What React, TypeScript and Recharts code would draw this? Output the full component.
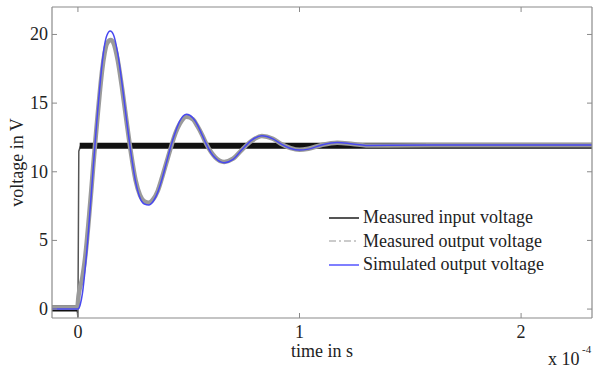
import React from 'react';
import { LineChart, Line, XAxis, YAxis, Legend } from 'recharts';

// time is in units of 1e-4 s
const xTicks = [0, 1, 2];
const yTicks = [0, 5, 10, 15, 20];

// measured input voltage: thin trace (step) and thick noisy band
const inputTime = [-0.117, -0.004, 0, 0.004, 0.012];
const inputVolt = [0.05, 0.05, -0.6, 11.5, 11.9];
const bandTime = [-0.117, -0.004, -0.002, 0.008, 2.32];
const bandVolt = [0.05, 0.05, null, 11.9, 11.9];

// measured output voltage
const measTime = [
  -0.117, -0.003, 0.003, 0.02, 0.03, 0.04, 0.05, 0.06, 0.07, 0.08, 0.09, 0.1, 0.11, 0.12, 0.13, 0.148, 0.16,
  0.18, 0.2, 0.22, 0.24, 0.26, 0.28, 0.3, 0.32, 0.34, 0.36, 0.38, 0.4, 0.42, 0.44, 0.46, 0.49, 0.52, 0.54,
  0.56, 0.58, 0.6, 0.62, 0.66, 0.7, 0.74, 0.78, 0.83, 0.88, 0.92, 0.96, 1.0, 1.04, 1.1, 1.17, 1.24, 1.3, 1.4,
  1.6, 2.0, 2.32,
];
const measVolt = [
  0.1, 0.1, 1.0, 2.3, 3.4, 4.9, 6.7, 8.6, 10.6, 12.5, 14.3, 16.0, 17.5, 18.6, 19.3, 19.6, 19.4,
  18.1, 16.0, 13.6, 11.3, 9.4, 8.3, 7.85, 7.75, 8.0, 8.6, 9.6, 10.7, 11.8, 12.8, 13.5, 14.0, 13.8, 13.3,
  12.7, 12.0, 11.45, 11.05, 10.72, 10.95, 11.6, 12.2, 12.6, 12.4, 12.0, 11.72, 11.6, 11.68, 11.95, 12.12, 12.02, 11.92, 11.92,
  11.93, 11.93, 11.93,
];

// simulated output voltage
const simTime = [
  -0.117, 0, 0.01, 0.02, 0.03, 0.04, 0.05, 0.06, 0.07, 0.08, 0.09, 0.1, 0.11, 0.12, 0.13, 0.146, 0.16,
  0.18, 0.2, 0.22, 0.24, 0.26, 0.28, 0.3, 0.32, 0.34, 0.36, 0.38, 0.4, 0.42, 0.44, 0.46, 0.49, 0.52, 0.54,
  0.56, 0.58, 0.6, 0.62, 0.66, 0.7, 0.74, 0.78, 0.83, 0.88, 0.92, 0.96, 1.0, 1.04, 1.1, 1.17, 1.24, 1.3, 1.4,
  1.6, 2.0, 2.32,
];
const simVolt = [
  0, 0, 0.3, 1.1, 2.5, 4.2, 6.2, 8.3, 10.5, 12.6, 14.6, 16.4, 18.0, 19.2, 19.9, 20.25, 20.0,
  18.6, 16.3, 13.7, 11.3, 9.3, 8.1, 7.65, 7.58, 7.85, 8.5, 9.5, 10.7, 11.9, 12.9, 13.7, 14.18, 13.9, 13.4,
  12.7, 12.0, 11.4, 11.0, 10.66, 10.9, 11.6, 12.25, 12.63, 12.4, 12.0, 11.7, 11.58, 11.65, 11.95, 12.14, 12.02, 11.92, 11.93,
  11.95, 11.95, 11.95,
];

const legendLabels = ['Measured input voltage', 'Measured output voltage', 'Simulated output voltage'];

const toPoints = (t: number[], v: (number | null)[]) => t.map((x, i) => ({ t: x, v: v[i] }));

const inputData = toPoints(inputTime, inputVolt);
const bandData = toPoints(bandTime, bandVolt);
const measData = toPoints(measTime, measVolt);
const simData = toPoints(simTime, simVolt);

const FONT = '"Liberation Serif", "Times New Roman", serif';
const AXIS = '#8a8a8a';
const TXT = '#222';
const TICK = 5;

const BottomTick = (p: any) => (
  <g>
    <line x1={p.x} x2={p.x} y1={p.y - 7} y2={p.y - 7 - TICK} stroke={AXIS} />
    <text x={p.x} y={p.y + 13} textAnchor="middle" fontFamily={FONT} fontSize={18} fill={TXT}>
      {p.payload.value}
    </text>
  </g>
);

const LeftTick = (p: any) => (
  <g>
    <line x1={p.x + 4} x2={p.x + 4 + TICK} y1={p.y} y2={p.y} stroke={AXIS} />
    <text x={p.x} y={p.y + 6} textAnchor="end" fontFamily={FONT} fontSize={18} fill={TXT}>
      {p.payload.value}
    </text>
  </g>
);

const TopTick = (p: any) => <line x1={p.x} x2={p.x} y1={p.y} y2={p.y + TICK} stroke={AXIS} />;
const RightTick = (p: any) => <line x1={p.x} x2={p.x - TICK} y1={p.y} y2={p.y} stroke={AXIS} />;

const XLabel = (p: any) => {
  const vb = p.viewBox;
  return (
    <g fontFamily={FONT} fill={TXT}>
      <text x={vb.x + vb.width / 2} y={vb.y + 39} textAnchor="middle" fontSize={18}>
        time in s
      </text>
      <text x={548} y={vb.y + 47} fontSize={18}>
        x 10
      </text>
      <text x={582} y={vb.y + 35} fontSize={11}>
        -4
      </text>
    </g>
  );
};

const YLabel = (p: any) => {
  const vb = p.viewBox;
  const cx = vb.x + 17;
  const cy = vb.y + vb.height / 2;
  return (
    <text
      x={cx}
      y={cy}
      transform={`rotate(-90 ${cx} ${cy})`}
      textAnchor="middle"
      dominantBaseline="central"
      fontFamily={FONT}
      fontSize={18}
      fill={TXT}
    >
      voltage in V
    </text>
  );
};

const legendStrokes = [
  { stroke: '#555', width: 2, dash: undefined },
  { stroke: '#bbb', width: 1.5, dash: '7 3 2 3' },
  { stroke: '#7f7fff', width: 2, dash: undefined },
];

const renderLegend = () => (
  <div style={{ fontFamily: FONT, fontSize: 18, color: TXT, whiteSpace: 'nowrap' }}>
    {legendLabels.map((label, i) => (
      <div key={label} style={{ display: 'flex', alignItems: 'center', height: 23.5 }}>
        <svg width={34} height={10}>
          <line
            x1={2}
            x2={32}
            y1={5}
            y2={5}
            stroke={legendStrokes[i].stroke}
            strokeWidth={legendStrokes[i].width}
            strokeDasharray={legendStrokes[i].dash}
          />
        </svg>
        <span style={{ marginLeft: 2 }}>{label}</span>
      </div>
    ))}
  </div>
);

export default function App() {
  const xDomain: [number, number] = [-0.117, 2.32];
  const yDomain: [number, number] = [-0.65, 22];
  return (
    <div style={{ position: 'absolute', left: 0, top: 0, width: 593, height: 371, background: '#fff' }}>
      <LineChart width={593} height={371} margin={{ top: 6, right: 0, left: 0, bottom: 0 }}>
        <XAxis
          dataKey="t"
          type="number"
          domain={xDomain}
          allowDataOverflow
          ticks={xTicks}
          interval={0}
          height={53}
          tickSize={0}
          tickMargin={7}
          tickLine={false}
          axisLine={{ stroke: AXIS, strokeWidth: 1.2 }}
          tick={BottomTick}
          label={XLabel}
        />
        <XAxis
          xAxisId="top"
          orientation="top"
          dataKey="t"
          type="number"
          domain={xDomain}
          allowDataOverflow
          ticks={xTicks}
          interval={0}
          height={1}
          tickSize={0}
          tickMargin={0}
          tickLine={false}
          axisLine={{ stroke: AXIS, strokeWidth: 1.2 }}
          tick={TopTick}
        />
        <YAxis
          type="number"
          domain={yDomain}
          allowDataOverflow
          ticks={yTicks}
          interval={0}
          width={52}
          tickSize={0}
          tickMargin={4}
          tickLine={false}
          axisLine={{ stroke: AXIS, strokeWidth: 1.2 }}
          tick={LeftTick}
          label={YLabel}
        />
        <YAxis
          yAxisId="right"
          orientation="right"
          type="number"
          domain={yDomain}
          allowDataOverflow
          ticks={yTicks}
          interval={0}
          width={1}
          tickSize={0}
          tickMargin={0}
          tickLine={false}
          axisLine={{ stroke: AXIS, strokeWidth: 1.2 }}
          tick={RightTick}
        />
        <Legend
          layout="vertical"
          align="center"
          verticalAlign="middle"
          content={renderLegend}
          wrapperStyle={{ left: 327, top: 206, width: 260 }}
        />
        <Line
          data={inputData}
          dataKey="v"
          type="linear"
          stroke="#555"
          strokeWidth={1.5}
          dot={false}
          isAnimationActive={false}
        />
        <Line
          data={bandData}
          dataKey="v"
          type="linear"
          stroke="#111"
          strokeWidth={6}
          dot={false}
          connectNulls={false}
          legendType="none"
          isAnimationActive={false}
        />
        <Line
          data={measData}
          dataKey="v"
          type="monotone"
          stroke="#9a9a9a"
          strokeWidth={4.5}
          dot={false}
          isAnimationActive={false}
        />
        <Line
          data={simData}
          dataKey="v"
          type="monotone"
          stroke="#4848f0"
          strokeWidth={1.5}
          dot={false}
          isAnimationActive={false}
        />
      </LineChart>
    </div>
  );
}
